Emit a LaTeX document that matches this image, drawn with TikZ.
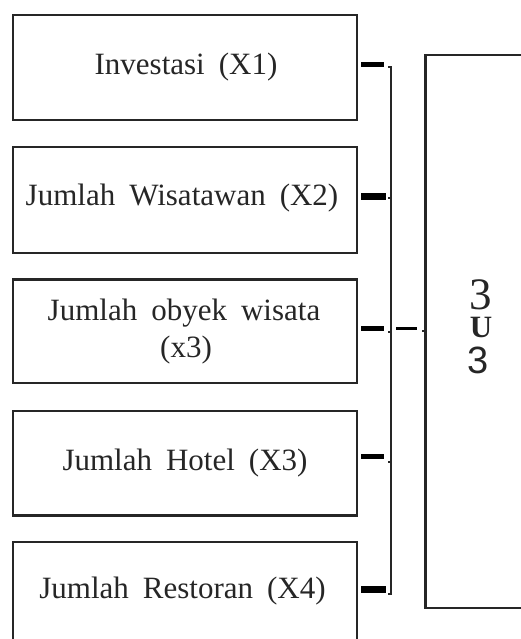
\documentclass[tikz,border=0pt]{standalone}
\usepackage{fontspec}
\setmainfont{Liberation Serif}
\newfontfamily\arialf{Liberation Sans}
\newcommand\lblfont{\fontsize{31}{36}\selectfont\spaceskip 14pt\relax}
\newcommand\symstack{\vtop{\offinterlineskip
  \hbox to 40pt{\hss\smash{\fontsize{45}{45}\selectfont 3}\hss}
  \kern 28pt
  \hbox to 40pt{\hss\smash{\fontsize{31}{31}\selectfont\bfseries U}\hss}
  \kern 36pt
  \hbox to 40pt{\hss\smash{\arialf\fontsize{38}{38}\selectfont 3}\kern5pt\hss}}}
\begin{document}
\begin{tikzpicture}[x=1pt,y=-1pt,
  box/.style={draw=black!85, line width=2.2pt, minimum width=344pt, inner sep=0pt, outer sep=0pt},
  lbl/.style={anchor=base, text=black!85, inner sep=0pt, font=\lblfont},
  bar/.style={line width=5pt, black},
  brk/.style={line width=2.2pt, black!85},
  tick/.style={line width=1.6pt, black!85}]
\useasboundingbox (0,0) rectangle (521,639);
\clip (0,0) rectangle (521,639);
% left boxes
\node[box, minimum height=104.4pt] (b1) at (185,67.5) {};
\node[box, minimum height=106pt] (b2) at (185,200) {};
\node[box, minimum height=103.5pt] (b3) at (185,331.2) {};
\node[box, minimum height=104.5pt] (b4) at (185,463.2) {};
\node[box, minimum height=105pt] (b5) at (185,594.5) {};
% labels
\node[lbl] (l1) at (186,75) {Investasi (X1)};
\node[lbl] (l2) at (182,205) {Jumlah Wisatawan (X2)};
\node[lbl] (l3a) at (184,320) {Jumlah obyek wisata};
\node[lbl] (l3b) at (186,357) {(x3)};
\node[lbl] (l4) at (185,470) {Jumlah Hotel (X3)};
\node[lbl] (l5) at (182.5,598) {Jumlah Restoran (X4)};
% big box
\node[draw=black!85, line width=2.2pt, minimum width=200pt, minimum height=553pt, inner sep=0pt, outer sep=0pt] (big) at (525.5,331.5) {};
\node[anchor=base, inner sep=0pt, text=black!85] (ysym) at (481,309) {\symstack};
% bracket
\coordinate (bt) at (391,67);
\coordinate (bb) at (391,594);
\draw[brk] ([xshift=-3pt]bt) -- (bt) -- (bb) -- ([xshift=-3pt]bb);
\draw[tick] (388,198) -- (391,198);
\draw[tick] (388,332) -- (391,332);
\draw[tick] (388,462) -- (391,462);
% bars from boxes to bracket
\draw[bar] ([shift={(4pt,3pt)}]b1.east) -- ++(23,0);
\draw[bar, line width=6.5pt] ([shift={(4pt,3.5pt)}]b2.east) -- ++(25,0);
\draw[bar] ([shift={(4pt,3.2pt)}]b3.east) -- ++(23,0);
\draw[bar] ([shift={(4pt,6.7pt)}]b4.east) -- ++(23,0);
\draw[bar, line width=6.5pt] ([shift={(4pt,5pt)}]b5.east) -- ++(25,0);
% dash from bracket to big box
\draw[line width=3pt, black] (396,328) -- (417,328);
\draw[tick] (422,331) -- (big.west |- 0,331);
\end{tikzpicture}
\end{document}
